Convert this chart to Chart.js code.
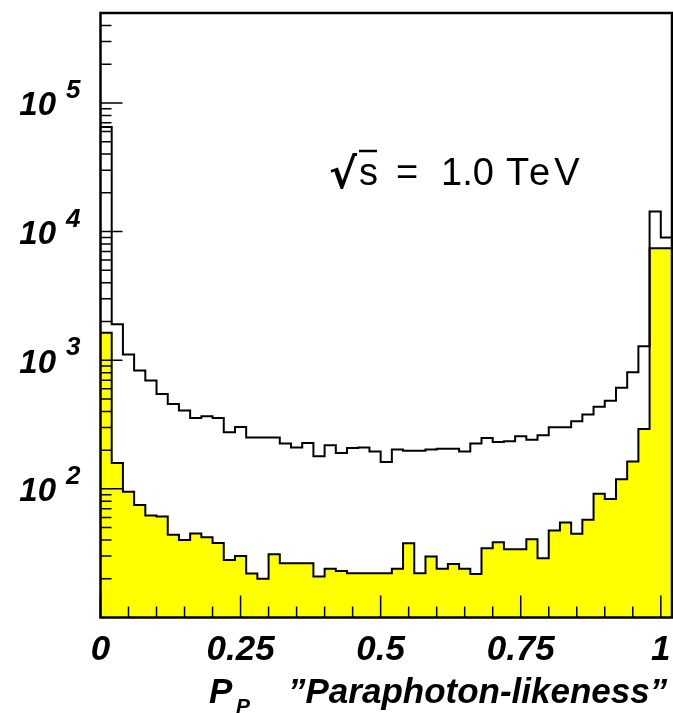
<!DOCTYPE html>
<html>
<head>
<meta charset="utf-8">
<script src="https://cdn.jsdelivr.net/npm/chart.js@4/dist/chart.umd.min.js"></script>
<style>
  html, body { margin: 0; padding: 0; background: #fff; }
  #wrap { width: 673px; height: 713px; }
</style>
</head>
<body>
<div id="wrap"><canvas id="histo"></canvas></div>
<script>
// lower edges of the 51 bins (width 0.02), last bin runs 1.00 - 1.02
const binLow = [0, 0.02, 0.04, 0.06, 0.08, 0.10, 0.12, 0.14, 0.16, 0.18,
    0.20, 0.22, 0.24, 0.26, 0.28, 0.30, 0.32, 0.34, 0.36, 0.38,
    0.40, 0.42, 0.44, 0.46, 0.48, 0.50, 0.52, 0.54, 0.56, 0.58,
    0.60, 0.62, 0.64, 0.66, 0.68, 0.70, 0.72, 0.74, 0.76, 0.78,
    0.80, 0.82, 0.84, 0.86, 0.88, 0.90, 0.92, 0.94, 0.96, 0.98, 1.00];
const xEnd = 1.02;

// open histogram (all events)
const allEvents = [65000, 1900, 1110, 830, 695, 547, 457, 406, 356, 366,
    356, 275, 303, 251, 251, 251, 225, 210, 227, 179,
    218, 190, 208, 210, 195, 162, 202, 198, 198, 202,
    205, 205, 195, 225, 249, 231, 234, 256, 241, 261,
    301, 301, 335, 378, 434, 485, 610, 807, 1285, 14300, 8980];

// yellow histogram
const paraphoton = [1634, 159, 95, 75, 62, 61, 44, 40, 45, 42,
    38, 28, 30, 22, 20, 31, 26.4, 26.4, 26.4, 20.8,
    23.9, 23.0, 22.1, 22.1, 22.1, 22.1, 23.9, 37.8, 22.1, 29.8,
    23.9, 26.0, 23.9, 21.8, 34.6, 38.5, 34.0, 34.0, 40.6, 28.9,
    47.4, 54.7, 44.7, 57.5, 91.6, 83.3, 119, 163, 292, 7410, 7410];

const xMajorTicks = [0, 0.25, 0.5, 0.75, 1];
const xMinorTicks = [0.05, 0.1, 0.15, 0.2, 0.3, 0.35, 0.4, 0.45,
    0.55, 0.6, 0.65, 0.7, 0.8, 0.85, 0.9, 0.95];
const yDecades = [100, 1000, 10000, 100000];
const yMin = 10, yMax = 500000;

function stepPoints(values) {
    const pts = binLow.map((x, i) => ({ x: x, y: values[i] }));
    pts.push({ x: xEnd, y: values[values.length - 1] });
    return pts;
}

const boldItalic = size => `italic bold ${size}px "Liberation Sans", Arial, sans-serif`;

// frame, inward ticks, y labels, axis title and energy text
const pawStyle = {
    id: 'pawStyle',
    afterDatasetsDraw(chart) {
        const ctx = chart.ctx;
        const { left, right, top, bottom } = chart.chartArea;
        const xs = chart.scales.x, ys = chart.scales.y;

        ctx.save();
        ctx.strokeStyle = '#000';
        ctx.lineWidth = 1.5;
        ctx.beginPath();
        xMajorTicks.forEach(v => {
            const px = xs.getPixelForValue(v);
            ctx.moveTo(px, bottom); ctx.lineTo(px, bottom - 22);
        });
        xMinorTicks.forEach(v => {
            const px = xs.getPixelForValue(v);
            ctx.moveTo(px, bottom); ctx.lineTo(px, bottom - 11);
        });
        for (let d = 10; d <= yMax; d *= 10) {
            for (let m = 1; m <= 9; m++) {
                const v = d * m;
                if (v <= yMin || v >= yMax) continue;
                const py = ys.getPixelForValue(v);
                ctx.moveTo(left, py); ctx.lineTo(left + (m === 1 ? 22 : 11), py);
            }
        }
        ctx.stroke();

        ctx.lineWidth = 2.5;
        ctx.strokeRect(left, top, right - left, bottom - top);

        // y labels 10^n
        ctx.fillStyle = '#000';
        ctx.textBaseline = 'alphabetic';
        yDecades.forEach(v => {
            const py = ys.getPixelForValue(v);
            ctx.font = boldItalic(33);
            ctx.textAlign = 'right';
            ctx.fillText('10', 56, py + 12.5);
            ctx.font = boldItalic(26);
            ctx.textAlign = 'left';
            ctx.fillText(String(Math.round(Math.log10(v))), 66, py - 5);
        });

        // x title
        ctx.textAlign = 'left';
        ctx.font = boldItalic(35);
        ctx.fillText('P', 209, 703);
        ctx.font = boldItalic(21);
        ctx.fillText('P', 236, 713);
        ctx.font = boldItalic(35);
        ctx.fillText('\u201DParaphoton-likeness\u201D', 288, 703);

        // sqrt(s) = 1.0 TeV
        ctx.font = 'bold 42px "DejaVu Sans", sans-serif';
        ctx.fillText('\u221A', 329, 188);
        ctx.font = '38px "Liberation Sans", Arial, sans-serif';
        ctx.fillText('s', 359, 185);
        const sw = ctx.measureText('s').width;
        ctx.lineWidth = 2.5;
        ctx.beginPath();
        ctx.moveTo(359, 151); ctx.lineTo(358 + sw, 151);
        ctx.stroke();
        ctx.fillText('=', 396, 185);
        ctx.fillText('1.0', 441, 185);
        ctx.letterSpacing = '4px';
        ctx.fillText('TeV', 506, 185);
        ctx.letterSpacing = '0px';
        ctx.restore();
    }
};

new Chart(document.getElementById('histo'), {
    type: 'line',
    data: {
        datasets: [
            {
                label: 'all',
                data: stepPoints(allEvents),
                stepped: 'before',
                borderColor: '#000',
                borderWidth: 2,
                pointRadius: 0,
                fill: false
            },
            {
                label: 'paraphoton',
                data: stepPoints(paraphoton),
                stepped: 'before',
                borderColor: '#000',
                borderWidth: 2,
                pointRadius: 0,
                backgroundColor: '#ffff00',
                fill: 'start'
            }
        ]
    },
    options: {
        responsive: true,
        maintainAspectRatio: false,
        animation: false,
        layout: { padding: { top: 13, right: 1, left: 0, bottom: 0 } },
        plugins: { legend: { display: false }, tooltip: { enabled: false } },
        scales: {
            x: {
                type: 'linear',
                min: 0,
                max: xEnd,
                afterBuildTicks: s => { s.ticks = xMajorTicks.map(v => ({ value: v })); },
                afterFit: s => {
                    s.height = 95.5;
                    s.paddingLeft = 0;
                    s.paddingRight = 0;
                },
                grid: { display: false, drawTicks: false },
                border: { display: false },
                ticks: {
                    color: '#000',
                    padding: 12,
                    maxRotation: 0,
                    font: { family: '"Liberation Sans", Arial, sans-serif', size: 35, style: 'italic', weight: 'bold' },
                    callback: v => String(v)
                }
            },
            y: {
                type: 'logarithmic',
                min: yMin,
                max: yMax,
                afterFit: s => { s.width = 100.5; },
                grid: { display: false, drawTicks: false },
                border: { display: false },
                ticks: { display: false }
            }
        }
    },
    plugins: [pawStyle]
});
</script>
</body>
</html>
